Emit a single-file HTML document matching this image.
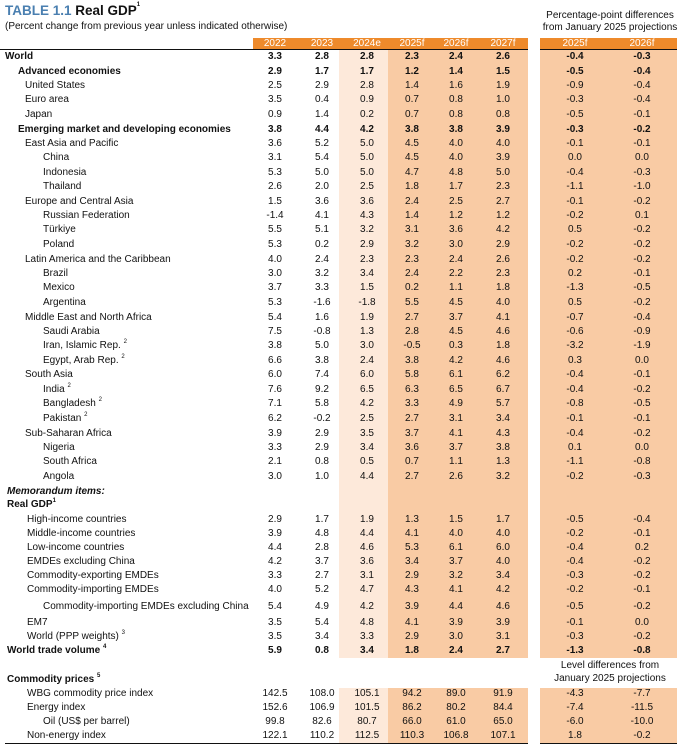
<!DOCTYPE html>
<html><head><meta charset="utf-8">
<style>
body{margin:0;width:681px;height:751px;background:#fff;font-family:"Liberation Sans",sans-serif;color:#111;position:relative;overflow:hidden}
.a{position:absolute}
.r{position:absolute;left:0;width:681px;height:14px;line-height:14px;font-size:10px}
.r span{position:absolute;top:0;width:50px;margin-left:-25px;text-align:center}
.r span:nth-of-type(1){left:275px}.r span:nth-of-type(2){left:322px}.r span:nth-of-type(3){left:367px}.r span:nth-of-type(4){left:412px}.r span:nth-of-type(5){left:456px}.r span:nth-of-type(6){left:503px}.r span:nth-of-type(7){left:575px}.r span:nth-of-type(8){left:642px}
.r i{position:absolute;top:0;font-style:normal;white-space:nowrap;line-height:14px}
.b{font-weight:bold}
.h{position:absolute;top:38px;height:11px;background:#ee8a2b;color:#fff;font-size:10px;line-height:11px}
.h span{position:absolute;width:50px;margin-left:-25px;text-align:center}
sup{font-size:6px;vertical-align:top;line-height:0;position:relative;top:3px}
</style></head><body>
<div class="a" style="left:339px;top:49px;width:49px;height:609px;background:#fde9da"></div>
<div class="a" style="left:388px;top:49px;width:140px;height:609px;background:#f9cba4"></div>
<div class="a" style="left:540px;top:49px;width:137px;height:609px;background:#f9cba4"></div>
<div class="a" style="left:339px;top:688px;width:49px;height:55px;background:#fde9da"></div>
<div class="a" style="left:388px;top:688px;width:140px;height:55px;background:#f9cba4"></div>
<div class="a" style="left:540px;top:688px;width:137px;height:55px;background:#f9cba4"></div>

<div class="a" style="left:5px;top:3px;font-size:13.5px;font-weight:bold;color:#4a7fb0">TABLE 1.1 <span style="color:#111">Real GDP<sup style="top:2px">1</sup></span></div>
<div class="a" style="left:5px;top:21px;font-size:10px">(Percent change from previous year unless indicated otherwise)</div>
<div class="a" style="left:540px;top:10px;width:140px;text-align:center;font-size:10px;line-height:12px">Percentage-point differences<br>from January 2025 projections</div>

<div class="h" style="left:253px;width:275px"><span style="left:22px">2022</span><span style="left:69px">2023</span><span style="left:114px">2024e</span><span style="left:159px">2025f</span><span style="left:203px">2026f</span><span style="left:250px">2027f</span></div>
<div class="h" style="left:540px;width:137px"><span style="left:35px">2025f</span><span style="left:102px">2026f</span></div>
<div class="a" style="left:0;top:49px;width:528px;height:1px;background:#111"></div>
<div class="a" style="left:540px;top:49px;width:137px;height:1px;background:#111"></div>

<div class="r b" style="top:50px"><i style="left:5px">World</i><span>3.3</span><span>2.8</span><span>2.8</span><span>2.3</span><span>2.4</span><span>2.6</span><span>-0.4</span><span>-0.3</span></div>
<div class="r b" style="top:65px"><i style="left:18px">Advanced economies</i><span>2.9</span><span>1.7</span><span>1.7</span><span>1.2</span><span>1.4</span><span>1.5</span><span>-0.5</span><span>-0.4</span></div>
<div class="r" style="top:79px"><i style="left:25px">United States</i><span>2.5</span><span>2.9</span><span>2.8</span><span>1.4</span><span>1.6</span><span>1.9</span><span>-0.9</span><span>-0.4</span></div>
<div class="r" style="top:93px"><i style="left:25px">Euro area</i><span>3.5</span><span>0.4</span><span>0.9</span><span>0.7</span><span>0.8</span><span>1.0</span><span>-0.3</span><span>-0.4</span></div>
<div class="r" style="top:108px"><i style="left:25px">Japan</i><span>0.9</span><span>1.4</span><span>0.2</span><span>0.7</span><span>0.8</span><span>0.8</span><span>-0.5</span><span>-0.1</span></div>
<div class="r b" style="top:123px"><i style="left:18px">Emerging market and developing economies</i><span>3.8</span><span>4.4</span><span>4.2</span><span>3.8</span><span>3.8</span><span>3.9</span><span>-0.3</span><span>-0.2</span></div>
<div class="r" style="top:137px"><i style="left:25px">East Asia and Pacific</i><span>3.6</span><span>5.2</span><span>5.0</span><span>4.5</span><span>4.0</span><span>4.0</span><span>-0.1</span><span>-0.1</span></div>
<div class="r" style="top:151px"><i style="left:43px">China</i><span>3.1</span><span>5.4</span><span>5.0</span><span>4.5</span><span>4.0</span><span>3.9</span><span>0.0</span><span>0.0</span></div>
<div class="r" style="top:166px"><i style="left:43px">Indonesia</i><span>5.3</span><span>5.0</span><span>5.0</span><span>4.7</span><span>4.8</span><span>5.0</span><span>-0.4</span><span>-0.3</span></div>
<div class="r" style="top:180px"><i style="left:43px">Thailand</i><span>2.6</span><span>2.0</span><span>2.5</span><span>1.8</span><span>1.7</span><span>2.3</span><span>-1.1</span><span>-1.0</span></div>
<div class="r" style="top:195px"><i style="left:25px">Europe and Central Asia</i><span>1.5</span><span>3.6</span><span>3.6</span><span>2.4</span><span>2.5</span><span>2.7</span><span>-0.1</span><span>-0.2</span></div>
<div class="r" style="top:209px"><i style="left:43px">Russian Federation</i><span>-1.4</span><span>4.1</span><span>4.3</span><span>1.4</span><span>1.2</span><span>1.2</span><span>-0.2</span><span>0.1</span></div>
<div class="r" style="top:223px"><i style="left:43px">Türkiye</i><span>5.5</span><span>5.1</span><span>3.2</span><span>3.1</span><span>3.6</span><span>4.2</span><span>0.5</span><span>-0.2</span></div>
<div class="r" style="top:238px"><i style="left:43px">Poland</i><span>5.3</span><span>0.2</span><span>2.9</span><span>3.2</span><span>3.0</span><span>2.9</span><span>-0.2</span><span>-0.2</span></div>
<div class="r" style="top:253px"><i style="left:25px">Latin America and the Caribbean</i><span>4.0</span><span>2.4</span><span>2.3</span><span>2.3</span><span>2.4</span><span>2.6</span><span>-0.2</span><span>-0.2</span></div>
<div class="r" style="top:267px"><i style="left:43px">Brazil</i><span>3.0</span><span>3.2</span><span>3.4</span><span>2.4</span><span>2.2</span><span>2.3</span><span>0.2</span><span>-0.1</span></div>
<div class="r" style="top:281px"><i style="left:43px">Mexico</i><span>3.7</span><span>3.3</span><span>1.5</span><span>0.2</span><span>1.1</span><span>1.8</span><span>-1.3</span><span>-0.5</span></div>
<div class="r" style="top:296px"><i style="left:43px">Argentina</i><span>5.3</span><span>-1.6</span><span>-1.8</span><span>5.5</span><span>4.5</span><span>4.0</span><span>0.5</span><span>-0.2</span></div>
<div class="r" style="top:311px"><i style="left:25px">Middle East and North Africa</i><span>5.4</span><span>1.6</span><span>1.9</span><span>2.7</span><span>3.7</span><span>4.1</span><span>-0.7</span><span>-0.4</span></div>
<div class="r" style="top:325px"><i style="left:43px">Saudi Arabia</i><span>7.5</span><span>-0.8</span><span>1.3</span><span>2.8</span><span>4.5</span><span>4.6</span><span>-0.6</span><span>-0.9</span></div>
<div class="r" style="top:339px"><i style="left:43px">Iran, Islamic Rep. <sup>2</sup></i><span>3.8</span><span>5.0</span><span>3.0</span><span>-0.5</span><span>0.3</span><span>1.8</span><span>-3.2</span><span>-1.9</span></div>
<div class="r" style="top:354px"><i style="left:43px">Egypt, Arab Rep. <sup>2</sup></i><span>6.6</span><span>3.8</span><span>2.4</span><span>3.8</span><span>4.2</span><span>4.6</span><span>0.3</span><span>0.0</span></div>
<div class="r" style="top:368px"><i style="left:25px">South Asia</i><span>6.0</span><span>7.4</span><span>6.0</span><span>5.8</span><span>6.1</span><span>6.2</span><span>-0.4</span><span>-0.1</span></div>
<div class="r" style="top:383px"><i style="left:43px">India <sup>2</sup></i><span>7.6</span><span>9.2</span><span>6.5</span><span>6.3</span><span>6.5</span><span>6.7</span><span>-0.4</span><span>-0.2</span></div>
<div class="r" style="top:397px"><i style="left:43px">Bangladesh <sup>2</sup></i><span>7.1</span><span>5.8</span><span>4.2</span><span>3.3</span><span>4.9</span><span>5.7</span><span>-0.8</span><span>-0.5</span></div>
<div class="r" style="top:412px"><i style="left:43px">Pakistan <sup>2</sup></i><span>6.2</span><span>-0.2</span><span>2.5</span><span>2.7</span><span>3.1</span><span>3.4</span><span>-0.1</span><span>-0.1</span></div>
<div class="r" style="top:427px"><i style="left:25px">Sub-Saharan Africa</i><span>3.9</span><span>2.9</span><span>3.5</span><span>3.7</span><span>4.1</span><span>4.3</span><span>-0.4</span><span>-0.2</span></div>
<div class="r" style="top:441px"><i style="left:43px">Nigeria</i><span>3.3</span><span>2.9</span><span>3.4</span><span>3.6</span><span>3.7</span><span>3.8</span><span>0.1</span><span>0.0</span></div>
<div class="r" style="top:455px"><i style="left:43px">South Africa</i><span>2.1</span><span>0.8</span><span>0.5</span><span>0.7</span><span>1.1</span><span>1.3</span><span>-1.1</span><span>-0.8</span></div>
<div class="r" style="top:470px"><i style="left:43px">Angola</i><span>3.0</span><span>1.0</span><span>4.4</span><span>2.7</span><span>2.6</span><span>3.2</span><span>-0.2</span><span>-0.3</span></div>
<div class="r b" style="top:485px"><i style="left:7px;font-style:italic">Memorandum items:</i></div>
<div class="r b" style="top:498px"><i style="left:7px">Real GDP<sup>1</sup></i></div>
<div class="r" style="top:513px"><i style="left:27px">High-income countries</i><span>2.9</span><span>1.7</span><span>1.9</span><span>1.3</span><span>1.5</span><span>1.7</span><span>-0.5</span><span>-0.4</span></div>
<div class="r" style="top:527px"><i style="left:27px">Middle-income countries</i><span>3.9</span><span>4.8</span><span>4.4</span><span>4.1</span><span>4.0</span><span>4.0</span><span>-0.2</span><span>-0.1</span></div>
<div class="r" style="top:541px"><i style="left:27px">Low-income countries</i><span>4.4</span><span>2.8</span><span>4.6</span><span>5.3</span><span>6.1</span><span>6.0</span><span>-0.4</span><span>0.2</span></div>
<div class="r" style="top:555px"><i style="left:27px">EMDEs excluding China</i><span>4.2</span><span>3.7</span><span>3.6</span><span>3.4</span><span>3.7</span><span>4.0</span><span>-0.4</span><span>-0.2</span></div>
<div class="r" style="top:569px"><i style="left:27px">Commodity-exporting EMDEs</i><span>3.3</span><span>2.7</span><span>3.1</span><span>2.9</span><span>3.2</span><span>3.4</span><span>-0.3</span><span>-0.2</span></div>
<div class="r" style="top:583px"><i style="left:27px">Commodity-importing EMDEs</i><span>4.0</span><span>5.2</span><span>4.7</span><span>4.3</span><span>4.1</span><span>4.2</span><span>-0.2</span><span>-0.1</span></div>
<div class="r" style="top:600px"><i style="left:43px">Commodity-importing EMDEs excluding China</i><span>5.4</span><span>4.9</span><span>4.2</span><span>3.9</span><span>4.4</span><span>4.6</span><span>-0.5</span><span>-0.2</span></div>
<div class="r" style="top:616px"><i style="left:27px">EM7</i><span>3.5</span><span>5.4</span><span>4.8</span><span>4.1</span><span>3.9</span><span>3.9</span><span>-0.1</span><span>0.0</span></div>
<div class="r" style="top:630px"><i style="left:27px">World (PPP weights) <sup>3</sup></i><span>3.5</span><span>3.4</span><span>3.3</span><span>2.9</span><span>3.0</span><span>3.1</span><span>-0.3</span><span>-0.2</span></div>
<div class="r b" style="top:644px"><i style="left:7px">World trade volume <sup>4</sup></i><span>5.9</span><span>0.8</span><span>3.4</span><span>1.8</span><span>2.4</span><span>2.7</span><span>-1.3</span><span>-0.8</span></div>
<div class="a" style="left:540px;top:659px;width:140px;text-align:center;font-size:10px;line-height:13px">Level differences from<br>January 2025 projections</div>
<div class="r b" style="top:673px"><i style="left:7px">Commodity prices <sup>5</sup></i></div>
<div class="r" style="top:687px"><i style="left:27px">WBG commodity price index</i><span>142.5</span><span>108.0</span><span>105.1</span><span>94.2</span><span>89.0</span><span>91.9</span><span>-4.3</span><span>-7.7</span></div>
<div class="r" style="top:701px"><i style="left:27px">Energy index</i><span>152.6</span><span>106.9</span><span>101.5</span><span>86.2</span><span>80.2</span><span>84.4</span><span>-7.4</span><span>-11.5</span></div>
<div class="r" style="top:715px"><i style="left:43px">Oil (US$ per barrel)</i><span>99.8</span><span>82.6</span><span>80.7</span><span>66.0</span><span>61.0</span><span>65.0</span><span>-6.0</span><span>-10.0</span></div>
<div class="r" style="top:729px"><i style="left:27px">Non-energy index</i><span>122.1</span><span>110.2</span><span>112.5</span><span>110.3</span><span>106.8</span><span>107.1</span><span>1.8</span><span>-0.2</span></div>
<div class="a" style="left:5px;top:743px;width:523px;height:1px;background:#111"></div>
<div class="a" style="left:540px;top:743px;width:137px;height:1px;background:#111"></div>
</body></html>
